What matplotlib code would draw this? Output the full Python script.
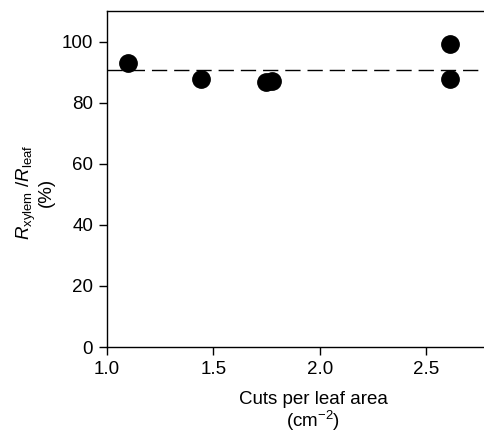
import numpy as np
import matplotlib
matplotlib.use("Agg")
import matplotlib.pyplot as plt

plt.rcParams['font.family'] = ['Liberation Sans', 'DejaVu Sans']
plt.rcParams['mathtext.fontset'] = 'custom'
plt.rcParams['mathtext.rm'] = 'Liberation Sans'
plt.rcParams['mathtext.it'] = 'Liberation Sans:italic'

# data
cuts = [1.10, 1.44, 1.745, 1.775, 2.61, 2.61]
ratio = [93.0, 87.8, 86.7, 87.1, 99.2, 87.8]
mean_ratio = 90.8

fig = plt.figure(figsize=(4.85, 4.34), dpi=100)
ax = fig.add_axes([107 / 485, 87 / 434, 1 - 107 / 485, 336 / 434])

ax.axhline(mean_ratio, color='black', lw=1.0, ls=(0, (11, 5)))
ax.plot(cuts, ratio, 'o', color='black', markersize=12.5, zorder=3)

ax.set_xlim(1.0, 2.775)
ax.set_ylim(0, 110)
ax.set_xticks([1.0, 1.5, 2.0, 2.5])
ax.set_yticks([0, 20, 40, 60, 80, 100])
ax.spines['right'].set_visible(False)
for s in ax.spines.values():
    s.set_linewidth(1.0)
ax.tick_params(direction='out', length=6, width=1, labelsize=13.5, pad=4)

fig.text(313 / 485, 1 - 412 / 434, 'Cuts per leaf area\n(cm$^{-2}$)',
         ha='center', va='center', fontsize=13.5, linespacing=1.1)
fig.text(35 / 485, 1 - 192 / 434,
         '$R_{\\mathrm{xylem}}$ /$R_{\\mathrm{leaf}}$\n(%)',
         ha='center', va='center', rotation=90, fontsize=13.5, linespacing=1.0)

fig.savefig('out.png', dpi=100)
